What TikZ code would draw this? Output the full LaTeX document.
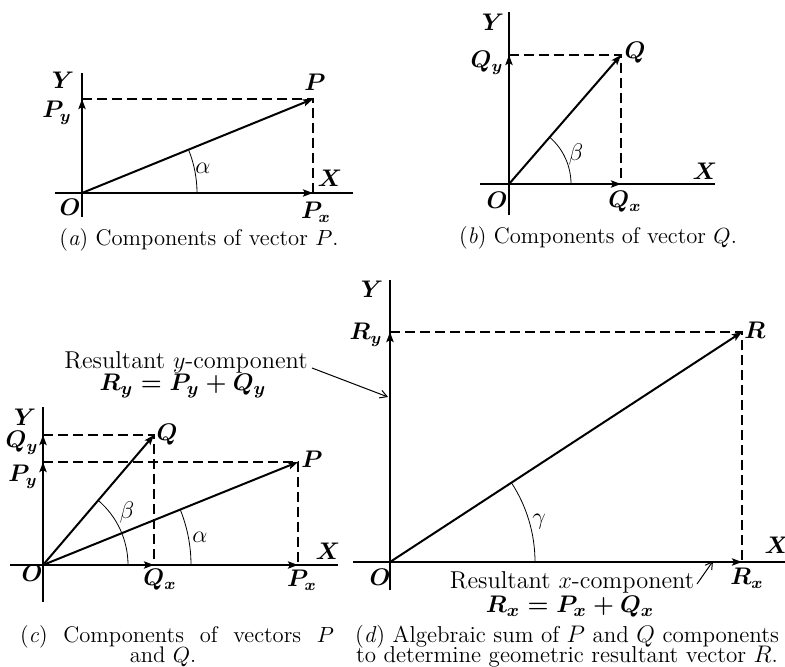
\documentclass[tikz,border=0pt]{standalone}
\usetikzlibrary{arrows.meta}
\newcommand{\mycapfontc}{\fontsize{11.3}{10}\selectfont\lineskiplimit -6pt\relax}
\newcommand{\mycapfontd}{\fontsize{11.5}{10}\selectfont\lineskiplimit -6pt\relax}
\begin{document}
\begin{tikzpicture}[x=0.5pt,y=-0.5pt,
  every node/.style={font=\fontsize{11.5}{13.8}\selectfont, inner sep=0pt},
  axisline/.style={line width=1pt},
  vec/.style={line width=1pt,-{Stealth[length=5pt,width=3.6pt,inset=1pt]}},
  guide/.style={line width=1pt,dash pattern=on 5pt off 2.5pt},
  anglearc/.style={line width=0.4pt},
  callout/.style={line width=0.5pt,-{Straight Barb[length=3.5pt,width=4pt]}},
  lbl/.style={font=\fontsize{11.5}{13.8}\selectfont\boldmath},
  greek/.style={font=\fontsize{12}{14}\selectfont},
  note/.style={font=\fontsize{12.2}{14}\selectfont},
  captext/.style={font=\mycapfontc, align=center}]
\useasboundingbox (0,0) rectangle (785,667);

% ---------------- panel (a)
\coordinate (Oa) at (82,193);
\coordinate (Pa) at (313,99);
\coordinate (YaT) at (82,73);
\coordinate (YaB) at (82,217);
\coordinate (XaL) at (55,193);
\coordinate (XaR) at (353,193);
\draw[axisline] (YaT) -- (YaB);
\draw[axisline] (XaL) -- (XaR);
\draw[guide] (Oa |- Pa) -- (Pa) -- (Pa |- Oa);
\draw[vec] (Oa) -- (Pa);
\draw[vec] (Oa) -- (Pa |- Oa);
\draw[vec] (Oa) -- (Oa |- Pa);
\draw[anglearc] (Oa) ++(0:115) arc[start angle=0,end angle=-22.1,radius=115];
\node[lbl] (aY) at (63,80) {$Y$};
\node[lbl] (aPy) at (57,113) {$P_y$};
\node[lbl] (aP) at (315,82) {$P$};
\node[lbl] (aX) at (330,178) {$X$};
\node[lbl] (aPx) at (316,212) {$P_x$};
\node[lbl] (aO) at (70,207) {$O$};
\node[greek] (aal) at (203,168) {$\alpha$};
\node[captext] (capa) at (199,240) {(\textit{a}) Components of vector $P$.};

% ---------------- panel (b)
\coordinate (Ob) at (509,184);
\coordinate (Qb) at (621,55);
\coordinate (YbT) at (509,12);
\coordinate (YbB) at (509,215);
\coordinate (XbL) at (480,184);
\coordinate (XbR) at (715,184);
\draw[axisline] (YbT) -- (YbB);
\draw[axisline] (XbL) -- (XbR);
\draw[guide] (Ob |- Qb) -- (Qb) -- (Qb |- Ob);
\draw[vec] (Ob) -- (Qb);
\draw[vec] (Ob) -- (Qb |- Ob);
\draw[vec] (Ob) -- (Ob |- Qb);
\draw[anglearc] (Ob) ++(0:62) arc[start angle=0,end angle=-49,radius=62];
\node[lbl] (bY) at (493,22) {$Y$};
\node[lbl] (bQy) at (487,63) {$Q_y$};
\node[lbl] (bQ) at (635,53) {$Q$};
\node[lbl] (bX) at (705,171) {$X$};
\node[lbl] (bQx) at (625,202) {$Q_x$};
\node[lbl] (bO) at (497,200) {$O$};
\node[greek] (bbe) at (576,155) {$\beta$};
\node[captext] (capb) at (598,238) {(\textit{b}) Components of vector $Q$.};

% ---------------- panel (c)
\coordinate (Oc) at (43,565);
\coordinate (Qc) at (154,435);
\coordinate (Pc) at (298,462);
\coordinate (YcT) at (43,407);
\coordinate (YcB) at (43,602);
\coordinate (XcL) at (10,565);
\coordinate (XcR) at (338,565);
\draw[axisline] (YcT) -- (YcB);
\draw[axisline] (XcL) -- (XcR);
\draw[guide] (Oc |- Qc) -- (Qc) -- (Qc |- Oc);
\draw[guide] (Oc |- Pc) -- (Pc) -- (Pc |- Oc);
\draw[vec] (Oc) -- (Qc);
\draw[vec] (Oc) -- (Pc);
\draw[vec] (Oc) -- (Qc |- Oc);
\draw[vec] (Oc) -- (Pc |- Oc);
\draw[vec] (Oc) -- (Oc |- Qc);
\draw[vec] (Oc) -- (Oc |- Pc);
\draw[anglearc] (Oc) ++(0:85) arc[start angle=0,end angle=-49.5,radius=85];
\draw[anglearc] (Oc) ++(0:148) arc[start angle=0,end angle=-22,radius=148];
\node[lbl] (cY) at (25,417) {$Y$};
\node[lbl] (cQy) at (22,443) {$Q_y$};
\node[lbl] (cPy) at (23,477) {$P_y$};
\node[lbl] (cQ) at (167,435) {$Q$};
\node[lbl] (cP) at (312,459) {$P$};
\node[lbl] (cX) at (328,551) {$X$};
\node[lbl] (cQx) at (160,580) {$Q_x$};
\node[lbl] (cPx) at (302,580) {$P_x$};
\node[lbl] (cO) at (32,573) {$O$};
\node[greek] (cbe) at (127,512) {$\beta$};
\node[greek] (cal) at (200,537) {$\alpha$};
\node[captext, anchor=north] (capc) at (177,625) {\makebox[157pt][s]{(\textit{c}) Components of vectors $P$}\\ and $Q$.\hspace*{14pt}};

% ---------------- panel (d)
\coordinate (Od) at (390,562);
\coordinate (Rd) at (742,332);
\coordinate (YdT) at (390,280);
\coordinate (YdB) at (390,590);
\coordinate (XdL) at (353,562);
\coordinate (XdR) at (785,562);
\draw[axisline] (YdT) -- (YdB);
\draw[axisline] (XdL) -- (XdR);
\draw[guide] (Od |- Rd) -- (Rd) -- (Rd |- Od);
\draw[vec] (Od) -- (Rd);
\draw[vec] (Od) -- (Rd |- Od);
\draw[vec] (Od) -- (Od |- Rd);
\draw[anglearc] (Od) ++(0:145) arc[start angle=0,end angle=-33.2,radius=145];
\node[lbl] (dY) at (372,289) {$Y$};
\node[lbl] (dRy) at (366,335) {$R_y$};
\node[lbl] (dR) at (755,330) {$R$};
\node[lbl] (dX) at (777,545) {$X$};
\node[lbl] (dRx) at (747,578) {$R_x$};
\node[lbl] (dO) at (380,577) {$O$};
\node[greek] (dga) at (539,522) {$\gamma$};

% annotations
\node[note] (ry1) at (186,362) {Resultant $y$-component};
\node[lbl,font=\fontsize{12.2}{14}\selectfont\boldmath] (ry2) at (183,386) {$R_y = P_y + Q_y$};
\coordinate (rystart) at (312,368);
\coordinate (ryend) at (388,397);
\draw[callout] (rystart) -- (ryend);

\node[note] (rx1) at (572,582) {Resultant $x$-component};
\node[lbl,font=\fontsize{12.2}{14}\selectfont\boldmath] (rx2) at (570,607) {$R_x = P_x + Q_x$};
\coordinate (rxstart) at (697,584);
\coordinate (rxend) at (713,561);
\draw[callout] (rxstart) -- (rxend);

\node[captext, font=\mycapfontd, anchor=north] (capd) at (567,625) {(\textit{d}) Algebraic sum of $P$ and $Q$ components\\ to determine geometric resultant vector $R$.};
\end{tikzpicture}
\end{document}
